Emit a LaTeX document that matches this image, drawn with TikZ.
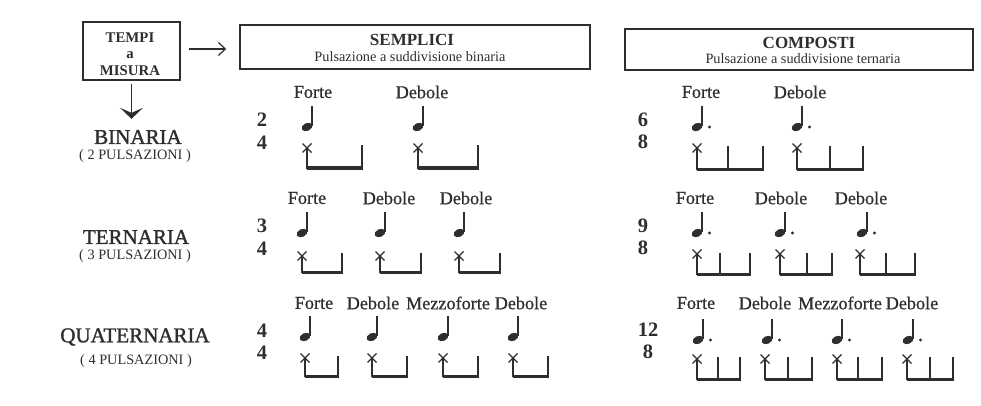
\documentclass[tikz,border=0pt]{standalone}
\usepackage{fontspec}
\setmainfont{Liberation Serif}
\usetikzlibrary{arrows.meta}
\definecolor{ink}{HTML}{2E2E2E}
\tikzset{
 lbl/.style={inner sep=0pt, font=\fontsize{18.2}{20}\selectfont\addfontfeature{FakeBold=0.6}, text=ink},
 ttl/.style={inner sep=0pt, font=\fontsize{21}{23}\selectfont\addfontfeature{FakeBold=1.4}, text=ink},
 sub/.style={inner sep=0pt, font=\fontsize{14.3}{16}\selectfont, text=ink},
 hdr/.style={inner sep=0pt, font=\fontsize{17}{19}\selectfont\bfseries, text=ink},
 tmp/.style={inner sep=0pt, align=center, font=\fontsize{14.8}{16.4}\selectfont\bfseries, text=ink},
 tsig/.style={inner sep=0pt, align=center, font=\fontsize{20.5}{22.5}\selectfont\bfseries, text=ink},
 hbox/.style={draw=ink, line width=1.5pt, inner sep=0pt},
 thinln/.style={draw=ink, line width=1.1pt},
 thickln/.style={draw=ink, line width=3pt},
 arr/.style={draw=ink, line width=1.2pt},
}
\newcommand\qnote[2]{%
 \fill[ink, rotate around={25:(#1,#2)}] (#1,#2) ellipse (5.6 and 3.9);
 \draw[ink, line width=1.1pt] (#1+5,#2-1) -- (#1+5,#2-21);
}
\newcommand\dnote[2]{%
 \qnote{#1}{#2}
 \fill[ink] (#1+12.5,#2) circle (1.7);
}
\newcommand\xmark[2]{%
 \draw[ink, line width=1.3pt] (#1-4.5,#2-4.5) -- (#1+4.5,#2+4.5) (#1-4.5,#2+4.5) -- (#1+4.5,#2-4.5);
}
% simple beat: xl, xr, yX, ybottom, yright-top
\newcommand\simplebeat[5]{%
 \xmark{#1}{#3}
 \draw[thinln] (#1,#3) -- (#1,#4);
 \draw[thinln] (#2,#5) -- (#2,#4);
 \draw[thickln] (#1-0.5,#4-1) -- (#2+0.5,#4-1);
}
% compound beat: x1, x2, x3, yX, ybottom, ytick-top
\newcommand\compbeat[6]{%
 \xmark{#1}{#4}
 \draw[thinln] (#1,#4) -- (#1,#5);
 \draw[thinln] (#2,#6) -- (#2,#5);
 \draw[thinln] (#3,#6) -- (#3,#5);
 \draw[thickln] (#1-0.5,#5-1) -- (#3+0.5,#5-1);
}
\begin{document}
\begin{tikzpicture}[x=1pt,y=-1pt]
\useasboundingbox (0,0) rectangle (981,406);
\fill[white] (0,0) rectangle (981,406);

% header boxes
\node[hbox, minimum width=97pt, minimum height=58pt] (tempi) at (131.5,51) {};
\node[tmp] (tempiT) at (130,54) {TEMPI\\a\\MISURA};

\node[hbox, minimum width=350pt, minimum height=44pt] (sempl) at (415,47) {};
\node[hdr] (semplT) at (412,40) {SEMPLICI};
\node[sub] (semplS) at (410,57) {Pulsazione a suddivisione binaria};

\node[hbox, minimum width=348pt, minimum height=41pt] (comp) at (799,49.5) {};
\node[hdr] (compT) at (809,43) {COMPOSTI};
\node[sub] (compS) at (803,59) {Pulsazione a suddivisione ternaria};

% row titles
\node[ttl] (bin) at (138,137) {BINARIA};
\node[sub] (binS) at (135,156) {( 2 PULSAZIONI )};
\node[ttl] (ter) at (136,237) {TERNARIA};
\node[sub] (terS) at (135,256) {( 3 PULSAZIONI )};
\node[ttl] (qua) at (135,337) {QUATERNARIA};
\node[sub] (quaS) at (136,361) {( 4 PULSAZIONI )};

% arrows
\draw[arr, -{Straight Barb[length=7pt,width=13pt]}, shorten <=8pt, shorten >=13pt]
  (tempi.east |- 0,49) -- (sempl.west |- 0,49);
\draw[arr, -{Stealth[length=11pt,width=23pt,inset=5pt]}, shorten <=3pt, shorten >=11pt]
  (tempi.south) -- (tempi.south |- bin.north);

% time signatures
\node[tsig] (t1) at (262,131) {2\\4};
\node[tsig] (t2) at (262,237) {3\\4};
\node[tsig] (t3) at (262,342) {4\\4};
\node[tsig] (c1) at (643,131) {6\\8};
\node[tsig] (c2) at (643,237) {9\\8};
\node[tsig] (c3) at (648,341) {12\\8};

% ---- row 1 ----
\node[lbl] (r1s1) at (313,92) {Forte};
\node[lbl] (r1s2) at (422,92) {Debole};
\qnote{307}{127}\qnote{418}{127}
\simplebeat{307}{362}{148}{169}{145}
\simplebeat{418}{478}{148}{169}{145}

\node[lbl] (r1c1) at (701,92) {Forte};
\node[lbl] (r1c2) at (800,92) {Debole};
\dnote{697}{127}\dnote{797}{127}
\compbeat{697}{728}{763}{148}{170}{146}
\compbeat{797}{830}{863}{148}{170}{146}

% ---- row 2 ----
\node[lbl] (r2s1) at (307,198) {Forte};
\node[lbl] (r2s2) at (389,198) {Debole};
\node[lbl] (r2s3) at (466,198) {Debole};
\qnote{302}{233}\qnote{380}{233}\qnote{459}{233}
\simplebeat{302}{342}{256}{273}{253}
\simplebeat{380}{421}{256}{273}{253}
\simplebeat{459}{500}{256}{273}{253}

\node[lbl] (r2c1) at (695,198) {Forte};
\node[lbl] (r2c2) at (781,198) {Debole};
\node[lbl] (r2c3) at (861,198) {Debole};
\dnote{697}{233}\dnote{780}{233}\dnote{862}{233}
\compbeat{697}{720}{750}{254}{275}{253}
\compbeat{780}{807}{832}{254}{275}{253}
\compbeat{860}{886}{915}{254}{275}{253}

% ---- row 3 ----
\node[lbl] (r3s1) at (314,303) {Forte};
\node[lbl] (r3s2) at (373,303) {Debole};
\node[lbl] (r3s3) at (448,303) {Mezzoforte};
\node[lbl] (r3s4) at (521,303) {Debole};
\qnote{305}{337}\qnote{372}{337}\qnote{443}{337}\qnote{513}{337}
\simplebeat{305}{338}{358}{377}{356}
\simplebeat{372}{407}{358}{377}{356}
\simplebeat{443}{478}{358}{377}{356}
\simplebeat{513}{548}{358}{377}{356}

\node[lbl] (r3c1) at (696,303) {Forte};
\node[lbl] (r3c2) at (765,303) {Debole};
\node[lbl] (r3c3) at (840,303) {Mezzoforte};
\node[lbl] (r3c4) at (912,303) {Debole};
\dnote{698}{340}\dnote{767}{340}\dnote{837}{340}\dnote{908}{340}
\compbeat{697}{718}{740}{359}{380}{357}
\compbeat{765}{788}{812}{359}{380}{357}
\compbeat{837}{858}{882}{359}{380}{357}
\compbeat{907}{930}{953}{359}{380}{357}
\end{tikzpicture}
\end{document}
